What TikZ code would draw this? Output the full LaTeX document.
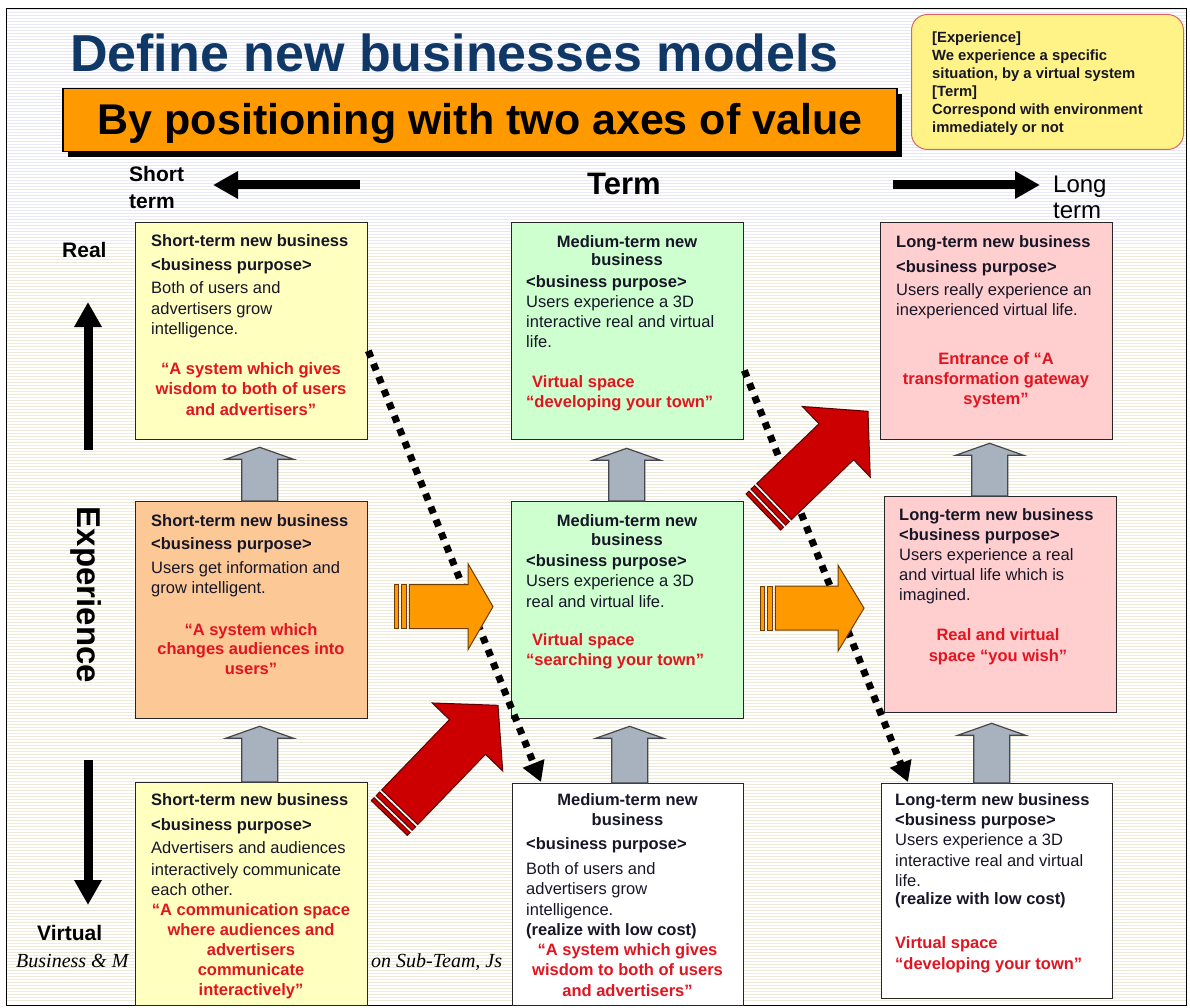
\documentclass[tikz,border=0pt]{standalone}
\usepackage{fontspec}
\setmainfont{Liberation Sans}
\newfontfamily\footfont{Liberation Serif}
\usetikzlibrary{arrows.meta,calc,shadows}
\newcommand\setfs[2]{\fontsize{#1}{#2}\selectfont}
\definecolor{titleblue}{RGB}{16,56,102}
\definecolor{bannerorange}{RGB}{255,153,0}
\definecolor{legyel}{RGB}{255,243,135}
\definecolor{legred}{RGB}{222,100,100}
\definecolor{yelA}{RGB}{255,255,192}
\definecolor{peach}{RGB}{251,200,150}
\definecolor{greenA}{RGB}{206,255,206}
\definecolor{pinkA}{RGB}{255,206,206}
\definecolor{bodyc}{RGB}{22,22,40}
\definecolor{redt}{RGB}{226,20,32}
\definecolor{bgA}{RGB}{236,233,214}
\definecolor{bgB}{RGB}{233,233,247}
\definecolor{arrorange}{RGB}{255,153,0}
\definecolor{arrorangeD}{RGB}{110,60,0}
\definecolor{arrred}{RGB}{204,0,0}
\definecolor{arrredD}{RGB}{90,0,0}
\definecolor{arrgray}{RGB}{168,178,190}
\definecolor{arrgrayD}{RGB}{70,70,75}
% block arrow: #1 from, #2 to, #3 shaft half width, #4 head half width, #5 head length, #6 stripes (0/1), #7 style
\newcommand\blockarr[7]{%
  \path let \p1=($(#2)-(#1)$), \n1={atan2(\y1,\x1)}, \n2={veclen(\x1,\y1)} in
    \pgfextra{\xdef\baAng{\n1}\xdef\baLen{\n2}};
  \begin{scope}[shift={(#1)}, rotate=\baAng, x=1pt, y=1pt]
    \pgfmathsetmacro\bb{\baLen-#5}
    \ifnum#6=1
      \path[#7] (0,-#3) rectangle (4,#3);
      \path[#7] (7,-#3) rectangle (12,#3);
      \path[#7] (15,-#3) -- (\bb,-#3) -- (\bb,-#4) -- (\baLen,0) -- (\bb,#4) -- (\bb,#3) -- (15,#3) -- cycle;
    \else
      \path[#7] (0,-#3) -- (\bb,-#3) -- (\bb,-#4) -- (\baLen,0) -- (\bb,#4) -- (\bb,#3) -- (0,#3) -- cycle;
    \fi
  \end{scope}}
\begin{document}
\begin{tikzpicture}[x=1pt,y=-1pt,
  bx/.style={draw=black!85, line width=1.3pt, inner sep=0pt, anchor=north west},
  bt/.style={anchor=north west, align=left, inner sep=0pt, text=bodyc, font=\setfs{16.5}{20.5}},
  btc/.style={anchor=north, align=center, inner sep=0pt, text=bodyc, font=\setfs{16.5}{20}\bfseries},
  rt/.style={anchor=north, align=center, inner sep=0pt, text=redt, font=\setfs{16.5}{20.5}\bfseries},
  rtl/.style={anchor=north west, align=left, inner sep=0pt, text=redt, font=\setfs{16.5}{20}\bfseries},
  axarr/.style={line width=9pt, -{Triangle[length=25pt,width=26pt]}},
  dotarr/.style={line width=7pt, dash pattern=on 7pt off 7pt, -{Triangle[length=20pt,width=22pt]}},
  oarr/.style={fill=arrorange, draw=arrorangeD, line width=1pt, line join=miter},
  rarr/.style={fill=arrred, draw=arrredD, line width=1pt, line join=miter},
  garr/.style={fill=arrgray, draw=arrgrayD, line width=1.2pt, line join=miter},
  lbl/.style={inner sep=0pt, text=black}]
\useasboundingbox (0,0) rectangle (1190,1008);
% background
\fill[white] (0,0) rectangle (1190,1008);
\foreach \yy in {10,16,...,1004} \draw[bgA, line width=1pt] (7,\yy) -- (1186,\yy);
\foreach \yy in {13,19,...,1001} \draw[bgB, line width=1pt] (7,\yy) -- (1186,\yy);
\draw[line width=1.2pt] (6.5,8.5) rectangle (1186.5,1005.5);

% footer (partly hidden)
\node[lbl, anchor=base west, font=\footfont\itshape\setfs{20}{24}] (foot1) at (16,967) {Business \& M};
\node[lbl, anchor=base west, font=\footfont\itshape\setfs{20}{24}] (foot2) at (371,967) {on Sub-Team, Js};

% title and banner
\node[lbl, anchor=base west, text=titleblue, font=\setfs{52}{60}\bfseries] (title) at (70,72) {Define new businesses models};
\node[draw=black, line width=1.2pt, fill=bannerorange, minimum width=834pt, minimum height=63pt, inner sep=0pt,
      drop shadow={shadow xshift=4.5pt, shadow yshift=-6pt, fill=black, opacity=1}] (banner) at (480,120) {};
\node[lbl, anchor=base, font=\setfs{43}{50}\bfseries] (bannertext) at (480,135) {By positioning with two axes of value};

% legend
\node[draw=legred, fill=legyel, line width=1pt, rounded corners=16pt, minimum width=272pt, minimum height=135pt,
      inner sep=0pt, anchor=north west] (leg) at (911,14) {};
\node[anchor=north west, align=left, inner sep=0pt, text=bodyc, font=\setfs{14.8}{18}\bfseries] (legt) at (932,32)
  {{[Experience]}\\We experience a specific\\situation, by a virtual system\\{}{[Term]}\\Correspond with environment\\immediately or not};

% axes
\node[lbl, anchor=north west, align=left, font=\setfs{21}{27}\bfseries] (shortl) at (129,166) {Short\\term};
\node[lbl, anchor=north west, align=left, font=\setfs{24}{26}] (longl) at (1053,176) {Long\\term};
\node[lbl, anchor=base west, font=\setfs{31}{36}\bfseries] (terml) at (587,195) {Term};
\node[lbl, anchor=base west, font=\setfs{21}{25}\bfseries] (reall) at (62,258) {Real};
\node[lbl, anchor=base west, font=\setfs{21}{25}\bfseries] (virtl) at (37,940) {Virtual};
\node[lbl, rotate=-90, font=\setfs{33}{38}\bfseries] (expl) at (86,595) {Experience};
\coordinate (lts) at (360,185); \coordinate (lte) at (213,185);
\coordinate (rts) at (893,185); \coordinate (rte) at (1040,185);
\coordinate (uts) at (88,450);  \coordinate (ute) at (88,302);
\coordinate (dts) at (88,760);  \coordinate (dte) at (88,905);
\draw[axarr] (lts) -- (lte);
\draw[axarr] (rts) -- (rte);
\draw[axarr] (uts) -- (ute);
\draw[axarr] (dts) -- (dte);

% boxes
\node[bx, fill=yelA,   minimum width=232pt, minimum height=217pt] (b11) at (135,222) {};
\node[bx, fill=peach,  minimum width=232pt, minimum height=217pt] (b21) at (135,501) {};
\node[bx, fill=yelA,   minimum width=232pt, minimum height=223pt] (b31) at (135,782) {};
\node[bx, fill=greenA, minimum width=232pt, minimum height=217pt] (b12) at (511,222) {};
\node[bx, fill=greenA, minimum width=232pt, minimum height=217pt] (b22) at (511,501) {};
\node[bx, fill=white,  minimum width=231pt, minimum height=222pt] (b32) at (512,783) {};
\node[bx, fill=pinkA,  minimum width=232pt, minimum height=217pt] (b13) at (880,222) {};
\node[bx, fill=pinkA,  minimum width=232pt, minimum height=216pt] (b23) at (884,496) {};
\node[bx, fill=white,  minimum width=231pt, minimum height=215pt] (b33) at (881,783) {};

% box texts: column 1
\node[bt] (t11) at (151,234) {\textbf{Short-term new business}\\[4pt]\textbf{<business purpose>}\\[2.5pt]Both of users and\\advertisers grow\\intelligence.};
\node[rt] (r11) at (251,362) {“A system which gives\\wisdom to both of users\\and advertisers”};
\node[bt] (t21) at (151,514) {\textbf{Short-term new business}\\[2.5pt]\textbf{<business purpose>}\\[3.5pt]Users get information and\\grow intelligent.};
\node[rt, font=\setfs{16.5}{19.5}\bfseries] (r21) at (251,623) {“A system which\\changes audiences into\\users”};
\node[bt] (t31) at (151,793) {\textbf{Short-term new business}\\[4.5pt]\textbf{<business purpose>}\\[2.5pt]Advertisers and audiences\\[1.5pt]interactively communicate\\each other.};
\node[rt, font=\setfs{16.5}{20}\bfseries] (r31) at (251,903) {“A communication space\\where audiences and\\advertisers\\communicate\\interactively”};

% column 2
\node[btc, font=\setfs{16.5}{18.5}\bfseries] (tt12) at (627,235) {Medium-term new\\business};
\node[bt, font=\setfs{16.5}{20}] (t12) at (526,275) {\textbf{<business purpose>}\\Users experience a 3D\\interactive real and virtual\\life.};
\node[rtl] (r12) at (526,375) {\hspace*{6pt}Virtual space\\“developing your town”};
\node[btc, font=\setfs{16.5}{19}\bfseries] (tt22) at (627,514) {Medium-term new\\business};
\node[bt] (t22) at (526,554) {\textbf{<business purpose>}\\Users experience a 3D\\real and virtual life.};
\node[rtl] (r22) at (526,633) {\hspace*{6pt}Virtual space\\“searching your town”};
\node[btc, font=\setfs{16.5}{20}\bfseries] (tt32) at (627.5,793) {Medium-term new\\business};
\node[bt] (t32) at (526,837) {\textbf{<business purpose>}\\[4.5pt]Both of users and\\advertisers grow\\intelligence.\\\textbf{(realize with low cost)}};
\node[rt] (r32) at (627.5,943) {“A system which gives\\wisdom to both of users\\and advertisers”};

% column 3
\node[bt] (t13) at (896,235) {\textbf{Long-term new business}\\[4.5pt]\textbf{<business purpose>}\\[2.5pt]Users really experience an\\inexperienced virtual life.};
\node[rt, font=\setfs{16.5}{20}\bfseries] (r13) at (996,352) {Entrance of “A\\transformation gateway\\system”};
\node[bt, font=\setfs{16.5}{20.2}] (t23) at (899,508) {\textbf{Long-term new business}\\\textbf{<business purpose>}\\Users experience a real\\and virtual life which is\\imagined.};
\node[rt, font=\setfs{16.5}{21}\bfseries] (r23) at (998,628) {Real and virtual\\space “you wish”};
\node[bt, font=\setfs{16.5}{20.5}] (t33) at (895,793) {\textbf{Long-term new business}\\[-0.5pt]\textbf{<business purpose>}\\Users experience a 3D\\interactive real and virtual\\life.\\[-2.5pt]\textbf{(realize with low cost)}};
\node[rtl, font=\setfs{16.5}{21}\bfseries] (r33) at (895,936) {Virtual space\\“developing your town”};

% gray upward arrows
\coordinate (g1s) at ($(b21.north)+(8,0)$);   \coordinate (g1e) at ($(b11.south)+(8,7)$);
\coordinate (g2s) at ($(b31.north)+(8,0)$);   \coordinate (g2e) at ($(b21.south)+(8,7)$);
\coordinate (g3s) at ($(b22.north)+(-1,0)$);  \coordinate (g3e) at ($(b12.south)+(-1,8)$);
\coordinate (g4s) at ($(b32.north)+(1.5,0)$); \coordinate (g4e) at ($(b22.south)+(2,7)$);
\coordinate (g5s) at ($(b23.north)+(-11,0)$); \coordinate (g5e) at ($(b13.south)+(-7,3)$);
\coordinate (g6s) at ($(b33.north)+(-5.5,0)$);\coordinate (g6e) at ($(b23.south)+(-9,10)$);
\blockarr{g1s}{g1e}{18}{34}{12}{0}{garr}
\blockarr{g2s}{g2e}{18}{34}{12}{0}{garr}
\blockarr{g3s}{g3e}{18}{34}{12}{0}{garr}
\blockarr{g4s}{g4e}{18}{34}{12}{0}{garr}
\blockarr{g5s}{g5e}{18}{34}{12}{0}{garr}
\blockarr{g6s}{g6e}{18}{34}{12}{0}{garr}

% dotted arrows
\coordinate (d1s) at ($(b11.north east)!0.59!(b11.south east)$);
\coordinate (d1e) at ($(b32.north west)+(29,-1)$);
\coordinate (d2s) at ($(b12.north east)!0.68!(b12.south east)$);
\coordinate (d2e) at ($(b33.north west)+(27,-1)$);
\draw[dotarr] (d1s) -- (d1e);
\draw[dotarr] (d2s) -- (d2e);

% orange arrows
\coordinate (o1s) at ($(b21.east)+(26,-3.5)$); \coordinate (o1e) at ($(b22.west)+(-18,-3.5)$);
\coordinate (o2s) at ($(b22.east)+(16,-2)$);   \coordinate (o2e) at ($(b23.west)+(-20,3.5)$);
\blockarr{o1s}{o1e}{22}{43}{25}{1}{oarr}
\blockarr{o2s}{o2e}{22}{43}{26}{1}{oarr}

% red arrows
\coordinate (ra1s) at ($(b31.north east)+(21,36)$); \coordinate (ra1e) at ($(b22.south west)+(-13,-14)$);
\coordinate (ra2s) at ($(b22.north east)+(19,11)$); \coordinate (ra2e) at ($(b13.south west)+(-12,-29)$);
\blockarr{ra1s}{ra1e}{25}{49}{44}{1}{rarr}
\blockarr{ra2s}{ra2e}{25}{49}{44}{1}{rarr}
\end{tikzpicture}
\end{document}
